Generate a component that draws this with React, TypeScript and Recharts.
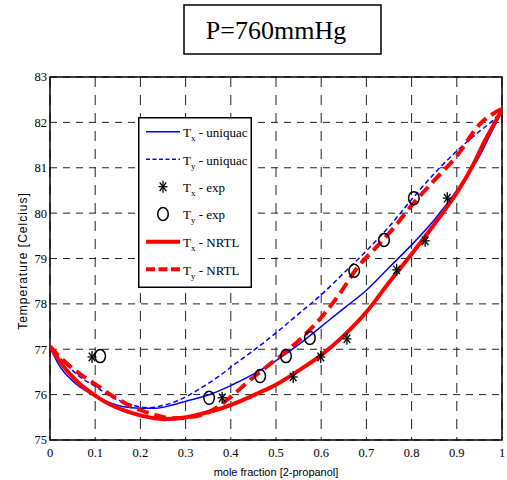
import React from 'react';
import {
  ComposedChart, Line, Scatter, XAxis, YAxis, CartesianGrid, ReferenceArea, Legend, Label,
} from 'recharts';

// ---- data ----
const xTicks = [0, 0.1, 0.2, 0.3, 0.4, 0.5, 0.6, 0.7, 0.8, 0.9, 1];
const yTicks = [75, 76, 77, 78, 79, 80, 81, 82, 83];
const xTickLabels = ['0', '0.1', '0.2', '0.3', '0.4', '0.5', '0.6', '0.7', '0.8', '0.9', '1'];

const txUniquac = [
  { x: 0, t: 77.05 }, { x: 0.02, t: 76.65 }, { x: 0.05, t: 76.3 }, { x: 0.09, t: 76.02 },
  { x: 0.125, t: 75.85 }, { x: 0.16, t: 75.74 }, { x: 0.2, t: 75.7 }, { x: 0.235, t: 75.7 },
  { x: 0.27, t: 75.77 }, { x: 0.31, t: 75.88 }, { x: 0.35, t: 75.99 }, { x: 0.4, t: 76.2 },
  { x: 0.45, t: 76.45 }, { x: 0.5, t: 76.75 }, { x: 0.55, t: 77.1 }, { x: 0.6, t: 77.5 },
  { x: 0.65, t: 77.9 }, { x: 0.7, t: 78.3 }, { x: 0.75, t: 78.8 }, { x: 0.8, t: 79.3 },
  { x: 0.85, t: 79.85 }, { x: 0.9, t: 80.5 }, { x: 0.95, t: 81.25 }, { x: 0.975, t: 81.75 },
  { x: 1, t: 82.25 },
];
const tyUniquac = [
  { x: 0, t: 77.05 }, { x: 0.03, t: 76.73 }, { x: 0.065, t: 76.4 }, { x: 0.1, t: 76.18 },
  { x: 0.14, t: 75.93 }, { x: 0.18, t: 75.78 }, { x: 0.215, t: 75.71 }, { x: 0.25, t: 75.76 },
  { x: 0.29, t: 75.9 }, { x: 0.33, t: 76.12 }, { x: 0.37, t: 76.38 }, { x: 0.41, t: 76.68 },
  { x: 0.45, t: 76.97 }, { x: 0.5, t: 77.36 }, { x: 0.55, t: 77.78 }, { x: 0.6, t: 78.2 },
  { x: 0.65, t: 78.68 }, { x: 0.7, t: 79.17 }, { x: 0.75, t: 79.7 }, { x: 0.8, t: 80.3 },
  { x: 0.85, t: 80.87 }, { x: 0.9, t: 81.37 }, { x: 0.95, t: 81.8 }, { x: 0.975, t: 82.0 },
  { x: 1, t: 82.25 },
];
const txNrtl = [
  { x: 0, t: 77.06 }, { x: 0.03, t: 76.62 }, { x: 0.06, t: 76.29 }, { x: 0.1, t: 75.98 },
  { x: 0.135, t: 75.77 }, { x: 0.17, t: 75.63 }, { x: 0.205, t: 75.53 }, { x: 0.25, t: 75.46 },
  { x: 0.295, t: 75.49 }, { x: 0.34, t: 75.59 }, { x: 0.38, t: 75.7 }, { x: 0.42, t: 75.85 },
  { x: 0.46, t: 76.03 }, { x: 0.5, t: 76.22 }, { x: 0.55, t: 76.53 }, { x: 0.6, t: 76.87 },
  { x: 0.65, t: 77.3 }, { x: 0.7, t: 77.82 }, { x: 0.75, t: 78.47 }, { x: 0.8, t: 79.1 },
  { x: 0.85, t: 79.75 }, { x: 0.9, t: 80.45 }, { x: 0.93, t: 80.95 }, { x: 0.965, t: 81.65 },
  { x: 1, t: 82.27 },
];
const tyNrtl = [
  { x: 0, t: 77.06 }, { x: 0.025, t: 76.8 }, { x: 0.06, t: 76.5 }, { x: 0.1, t: 76.23 },
  { x: 0.14, t: 75.96 }, { x: 0.18, t: 75.74 }, { x: 0.22, t: 75.59 }, { x: 0.27, t: 75.48 },
  { x: 0.32, t: 75.52 }, { x: 0.36, t: 75.66 }, { x: 0.4, t: 75.95 }, { x: 0.44, t: 76.3 },
  { x: 0.48, t: 76.62 }, { x: 0.52, t: 76.93 }, { x: 0.56, t: 77.28 }, { x: 0.6, t: 77.7 },
  { x: 0.64, t: 78.21 }, { x: 0.68, t: 78.8 }, { x: 0.72, t: 79.23 }, { x: 0.76, t: 79.67 },
  { x: 0.8, t: 80.17 }, { x: 0.85, t: 80.72 }, { x: 0.9, t: 81.26 }, { x: 0.95, t: 81.95 },
  { x: 1, t: 82.3 },
];
const txExp = [
  { x: 0.093, t: 76.83 }, { x: 0.381, t: 75.93 }, { x: 0.538, t: 76.39 }, { x: 0.599, t: 76.83 },
  { x: 0.657, t: 77.23 }, { x: 0.767, t: 78.75 }, { x: 0.83, t: 79.39 }, { x: 0.879, t: 80.33 },
];
const tyExp = [
  { x: 0.111, t: 76.85 }, { x: 0.352, t: 75.93 }, { x: 0.465, t: 76.41 }, { x: 0.522, t: 76.85 },
  { x: 0.575, t: 77.25 }, { x: 0.673, t: 78.73 }, { x: 0.739, t: 79.41 }, { x: 0.805, t: 80.33 },
];

const legendEntries = [
  { key: 'txu', sub: 'x', rest: ' - uniquac' },
  { key: 'tyu', sub: 'y', rest: ' - uniquac' },
  { key: 'txe', sub: 'x', rest: ' - exp' },
  { key: 'tye', sub: 'y', rest: ' - exp' },
  { key: 'txn', sub: 'x', rest: ' - NRTL' },
  { key: 'tyn', sub: 'y', rest: ' - NRTL' },
];

const titleText = 'P=760mmHg';
const xLabel = 'mole fraction [2-propanol]';
const yLabel = 'Temperature [Celcius]';

// ---- styles ----
const BLUE = '#0000ff';
const RED = '#ff0000';
const SERIF = '"Liberation Serif", "Times New Roman", serif';
const SANS = '"Liberation Sans", Arial, sans-serif';

const Asterisk = ({ cx, cy }: any) => {
  if (cx == null || cy == null) return null;
  const w = 4.5, h = 6;
  const dw = 3.3, dh = 4.3;
  return (
    <g stroke="#000" strokeWidth={1.3}>
      <line x1={cx} y1={cy - h} x2={cx} y2={cy + h} />
      <line x1={cx - w} y1={cy} x2={cx + w} y2={cy} />
      <line x1={cx - dw} y1={cy - dh} x2={cx + dw} y2={cy + dh} />
      <line x1={cx - dw} y1={cy + dh} x2={cx + dw} y2={cy - dh} />
    </g>
  );
};

const Circ = ({ cx, cy }: any) => {
  if (cx == null || cy == null) return null;
  return <ellipse cx={cx} cy={cy} rx={5.3} ry={6.5} fill="none" stroke="#000" strokeWidth={1.5} />;
};

const rowYs = [14.7, 42.3, 69.7, 97, 124.7, 152.3];

const renderLegend = () => (
  <svg width={114} height={171} style={{ display: 'block' }}>
    <rect x={0.75} y={0.75} width={112.5} height={169.5} fill="#fff" stroke="#000" strokeWidth={1.5} />
    {legendEntries.map((e, i) => {
      const y = rowYs[i];
      let sample: React.ReactNode = null;
      if (e.key === 'txu') sample = <line x1={8} y1={y} x2={42} y2={y} stroke={BLUE} strokeWidth={1.5} />;
      if (e.key === 'tyu') sample = <line x1={8} y1={y} x2={42} y2={y} stroke={BLUE} strokeWidth={1.5} strokeDasharray="4 2.5" />;
      if (e.key === 'txe') sample = <Asterisk cx={25} cy={y} />;
      if (e.key === 'tye') sample = <Circ cx={25} cy={y} />;
      if (e.key === 'txn') sample = <line x1={8} y1={y} x2={42} y2={y} stroke={RED} strokeWidth={4} />;
      if (e.key === 'tyn') sample = <line x1={8} y1={y} x2={42} y2={y} stroke={RED} strokeWidth={4} strokeDasharray="9 3.5" />;
      return (
        <g key={e.key}>
          {sample}
          <text x={45} y={y + 5.3} fontFamily={SERIF} fontSize={13} fill="#000">
            T<tspan fontSize={9} dy={4}>{e.sub}</tspan><tspan dy={-4}>{e.rest}</tspan>
          </text>
        </g>
      );
    })}
  </svg>
);

const tickStyle = { fontFamily: SERIF, fontSize: 12.5, fill: '#000', style: { fontFamily: SERIF } };

export default function App() {
  return (
    <div style={{ position: 'absolute', left: 0, top: 0, width: 507, height: 480, background: '#fff' }}>
      <svg width={507} height={70} style={{ position: 'absolute', left: 0, top: 0 }}>
        <rect x={184} y={5} width={197} height={49} fill="#fff" stroke="#000" strokeWidth={1.5} />
        <text x={276} y={38.5} textAnchor="middle" fontFamily={SERIF} fontSize={26} fill="#000">
          {titleText}
        </text>
      </svg>
      <ComposedChart
        width={507}
        height={480}
        margin={{ top: 77, right: 5, bottom: 15, left: 20 }}
        style={{ position: 'absolute', left: 0, top: 0 }}
      >
        <CartesianGrid horizontal vertical={false} stroke="#222" strokeDasharray="7 6" />
        <CartesianGrid horizontal={false} vertical stroke="#222" strokeDasharray="10 8" />
        <XAxis
          type="number"
          dataKey="x"
          domain={[0, 1]}
          ticks={xTicks}
          tickFormatter={(v: number) => xTickLabels[xTicks.indexOf(v)] ?? String(v)}
          interval={0}
          height={25}
          tickLine={false}
          axisLine={false}
          tickSize={0}
          tickMargin={8}
          tick={tickStyle}
          allowDataOverflow
        >
          <Label value={xLabel} position="bottom" offset={3} style={{ fontFamily: SANS, fontSize: 11, fill: '#000' }} />
        </XAxis>
        <YAxis
          type="number"
          dataKey="t"
          domain={[75, 83]}
          ticks={yTicks}
          interval={0}
          width={30}
          tickLine={false}
          axisLine={false}
          tickSize={0}
          tickMargin={3}
          tick={tickStyle}
          allowDataOverflow
        >
          <Label
            content={() => (
              <text
                x={23}
                y={261}
                transform="rotate(-90 23 261)"
                textAnchor="middle"
                dominantBaseline="central"
                fontFamily={SANS}
                fontSize={12}
                letterSpacing={1}
                fill="#000"
              >
                {yLabel}
              </text>
            )}
          />
        </YAxis>
        <Line data={txUniquac} dataKey="t" type="monotone" stroke={BLUE} strokeWidth={1.5} dot={false} isAnimationActive={false} name="Tx - uniquac" />
        <Line data={tyUniquac} dataKey="t" type="monotone" stroke={BLUE} strokeWidth={1.5} strokeDasharray="5 3" dot={false} isAnimationActive={false} name="Ty - uniquac" />
        <Line data={txNrtl} dataKey="t" type="monotone" stroke={RED} strokeWidth={4} dot={false} isAnimationActive={false} name="Tx - NRTL" />
        <Line data={tyNrtl} dataKey="t" type="monotone" stroke={RED} strokeWidth={4} strokeDasharray="12 6" dot={false} isAnimationActive={false} name="Ty - NRTL" />
        <Scatter data={txExp} dataKey="t" shape={<Asterisk />} isAnimationActive={false} name="Tx - exp" />
        <Scatter data={tyExp} dataKey="t" shape={<Circ />} isAnimationActive={false} name="Ty - exp" />
        <ReferenceArea x1={0} x2={1} y1={75} y2={83} fill="none" stroke="#000" strokeWidth={1.5} ifOverflow="visible" />
        <Legend
          layout="vertical"
          align="center"
          verticalAlign="middle"
          wrapperStyle={{ left: 138, top: 117, width: 114, height: 171 }}
          content={renderLegend}
        />
      </ComposedChart>
    </div>
  );
}
